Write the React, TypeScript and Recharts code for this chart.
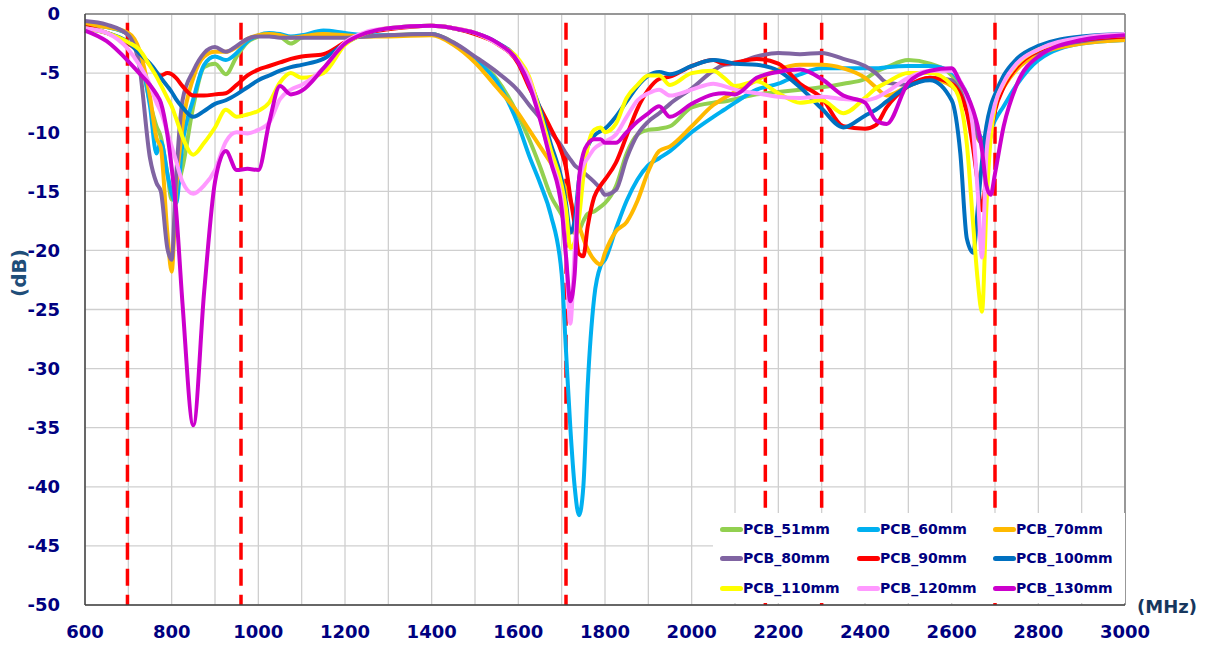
import React from 'react';
import { LineChart, Line, XAxis, YAxis, CartesianGrid, ReferenceLine, Legend } from 'recharts';

const FREQ = [
  600, 650, 700, 725, 750, 765, 775, 790, 800, 810,
  825, 850, 875, 900, 925, 950, 975, 1000, 1025, 1050,
  1075, 1100, 1150, 1200, 1250, 1300, 1400, 1450, 1500, 1550,
  1600, 1625, 1650, 1675, 1700, 1710, 1720, 1730, 1740, 1750,
  1760, 1775, 1790, 1800, 1825, 1850, 1875, 1900, 1925, 1950,
  2000, 2050, 2075, 2100, 2150, 2200, 2250, 2300, 2350, 2400,
  2425, 2450, 2500, 2550, 2600, 2620, 2635, 2650, 2660, 2670,
  2680, 2690, 2700, 2720, 2750, 2800, 2900, 3000,
];

const PCB_51 = [
  -0.9, -1.1, -1.7, -3.2, -7.5, -9.5, -10.4, -13.5, -15.7, -15.0,
  -13.0, -7.8, -4.5, -4.2, -5.1, -3.6, -2.4, -1.9, -1.7, -1.9,
  -2.5, -2.0, -1.8, -1.9, -1.9, -1.8, -1.7, -2.4, -3.8, -5.5,
  -8.6, -10.6, -12.9, -15.4, -17.0, -17.8, -18.4, -18.5, -18.3, -17.5,
  -16.9, -16.7, -16.3, -16.0, -14.6, -11.8, -10.2, -9.8, -9.7, -9.5,
  -7.9, -7.5, -7.4, -7.2, -6.8, -6.6, -6.4, -6.2, -5.9, -5.5,
  -4.9, -4.5, -3.9, -4.2, -5.2, -6.2, -7.5, -9.0, -10.2, -10.8,
  -10.0, -8.3, -7.3, -5.8, -4.3, -3.3, -2.4, -2.0,
];

const PCB_60 = [
  -0.9, -1.1, -1.7, -3.2, -7.8, -11.8, -10.8, -13.5, -15.2, -16.0,
  -11.0, -7.2, -4.3, -3.6, -3.9, -3.3, -2.3, -1.8, -1.6, -1.7,
  -1.9, -1.8, -1.4, -1.6, -1.8, -1.8, -1.7, -2.5, -3.9, -5.7,
  -9.4, -12.0, -14.3, -17.0, -22.0, -28.5, -35.0, -40.0, -42.4, -40.0,
  -31.5, -24.0, -21.3, -20.8, -18.2, -15.8, -14.0, -12.8, -12.2, -11.6,
  -10.0, -8.7, -8.1, -7.5, -6.4, -5.9, -5.1, -4.6, -4.6, -4.6,
  -4.6, -4.5, -4.4, -4.4, -4.9, -5.8, -6.8, -8.5, -9.8, -10.5,
  -10.5, -9.8, -9.0, -7.8, -6.0, -3.9, -2.5, -2.2,
];

const PCB_70 = [
  -0.9, -1.1, -1.6, -3.0, -7.0, -10.5, -11.3, -18.5, -21.8, -15.0,
  -9.5, -5.4, -3.6, -3.2, -3.2, -2.8, -2.1, -1.8, -1.7, -1.8,
  -2.0, -1.9, -1.7, -1.8, -1.9, -1.9, -1.8, -2.6, -4.1, -6.2,
  -8.4, -9.8, -11.2, -12.6, -14.1, -14.8, -15.8, -16.8, -17.9, -19.0,
  -19.9, -20.8, -21.2, -20.2, -18.4, -17.6, -15.8, -13.3, -11.6, -11.2,
  -9.5, -7.7, -7.1, -6.6, -5.6, -4.7, -4.3, -4.3, -4.6, -5.4,
  -6.2, -6.9, -6.1, -5.5, -6.1, -7.0, -8.1, -9.5, -10.5, -10.9,
  -10.0, -8.6, -7.6, -6.2, -4.7, -3.4, -2.5, -2.2,
];

const PCB_80 = [
  -0.6, -0.9, -1.8, -4.3, -12.2, -14.3, -15.0, -19.8, -20.8, -14.0,
  -7.3, -4.8, -3.3, -2.8, -3.2, -2.7, -2.1, -1.9, -1.9, -2.0,
  -2.0, -2.0, -2.0, -2.0, -1.9, -1.8, -1.7, -2.4, -3.6, -4.9,
  -6.5, -7.7, -8.8, -10.0, -11.2, -11.8, -12.3, -12.8, -13.1, -13.4,
  -13.7, -14.2, -14.8, -15.3, -14.9, -12.2, -10.2, -9.1, -8.4, -7.6,
  -6.3, -4.8, -4.3, -4.2, -3.6, -3.3, -3.4, -3.3, -3.8, -4.4,
  -5.0, -5.8, -6.0, -5.4, -5.6, -6.6, -7.8, -9.2, -10.3, -11.0,
  -10.2, -8.5, -7.3, -5.8, -4.2, -3.2, -2.3, -1.9,
];

const PCB_90 = [
  -1.1, -1.6, -2.5, -3.2, -4.3, -5.0, -5.2, -5.0, -5.1, -5.4,
  -6.1, -6.9, -6.9, -6.8, -6.7, -6.0, -5.2, -4.7, -4.4, -4.1,
  -3.8, -3.6, -3.4, -2.4, -1.6, -1.3, -1.0, -1.2, -1.7, -2.5,
  -4.2, -6.2, -7.9, -9.7, -11.7, -13.0, -15.5, -17.8, -20.3, -20.5,
  -18.0, -15.5, -14.5, -14.0, -12.6, -10.3, -8.0, -6.4, -5.5, -5.3,
  -4.4, -3.9, -4.2, -4.1, -3.8, -4.2, -5.9, -7.1, -9.5, -9.7,
  -9.4, -7.9, -6.1, -5.4, -5.9, -6.8, -8.3, -11.5, -14.2, -16.6,
  -13.5, -10.2, -8.2, -6.2, -4.5, -3.1, -2.2, -1.9,
];

const PCB_100 = [
  -1.2, -1.6, -2.4, -3.3, -4.2, -4.9, -5.4, -6.1, -6.6, -7.2,
  -7.9, -8.7, -8.2, -7.6, -7.3, -6.8, -6.2, -5.6, -5.2, -4.8,
  -4.5, -4.3, -3.8, -2.5, -1.6, -1.2, -1.0, -1.2, -1.6, -2.4,
  -3.9, -5.6, -8.0, -11.0, -14.0, -16.0, -18.5, -17.5, -14.0, -12.2,
  -11.2, -10.3, -9.9, -9.7, -8.7, -7.4, -6.1, -5.2, -4.9, -5.1,
  -4.4, -3.9, -4.0, -4.2, -4.3, -4.8, -6.2, -8.0, -9.6, -8.6,
  -8.1, -7.4, -6.1, -5.6, -7.3, -11.8, -19.0, -20.2, -16.5, -12.5,
  -9.5, -7.8, -6.8, -5.2, -3.8, -2.7, -1.9, -1.7,
];

const PCB_110 = [
  -1.2, -1.6, -2.4, -3.0, -4.4, -5.3, -6.0, -7.1, -7.8, -8.8,
  -10.4, -11.9, -10.9, -9.6, -8.1, -8.7, -8.5, -8.2, -7.5, -5.8,
  -5.0, -5.4, -5.0, -2.6, -1.6, -1.2, -1.0, -1.2, -1.6, -2.5,
  -3.8, -5.3, -8.3, -11.5, -14.5, -16.5, -19.8, -19.3, -17.3, -13.8,
  -11.3, -9.8, -9.6, -10.0, -9.3, -7.1, -6.0, -5.2, -5.2, -6.0,
  -5.0, -4.8, -5.4, -6.1, -5.7, -6.7, -7.5, -7.3, -8.4, -7.1,
  -6.3, -5.8, -5.0, -5.0, -6.0, -7.5, -11.0, -18.0, -22.5, -25.2,
  -16.5, -10.5, -7.8, -5.9, -4.3, -3.0, -2.1, -1.8,
];

const PCB_120 = [
  -1.2, -1.6, -3.0, -4.3, -6.0, -7.5, -8.3, -10.0, -11.2, -12.4,
  -14.2, -15.2, -14.5, -13.2, -10.8, -10.0, -10.1, -9.8, -9.2, -7.2,
  -6.4, -6.0, -4.6, -2.4, -1.5, -1.2, -1.0, -1.2, -1.6, -2.5,
  -4.0, -5.5, -8.8, -12.3, -15.8, -20.5, -26.2, -20.0, -14.5, -12.8,
  -12.2, -11.4, -11.0, -10.8, -10.2, -8.7, -7.3, -6.7, -6.4, -6.9,
  -6.4, -5.9, -6.1, -6.4, -6.7, -7.0, -7.1, -7.0, -7.2, -7.3,
  -7.1, -6.6, -5.4, -4.8, -4.8, -5.7, -7.0, -10.0, -15.0, -20.6,
  -12.0, -9.2, -7.6, -5.8, -4.2, -3.0, -2.0, -1.7,
];

const PCB_130 = [
  -1.4, -2.3, -4.0, -5.0, -6.0, -6.8, -7.5, -10.2, -13.0, -16.5,
  -24.5, -34.8, -23.5, -14.2, -11.6, -13.2, -13.1, -13.2, -9.2, -6.1,
  -6.8, -6.5, -4.6, -2.5, -1.6, -1.2, -1.0, -1.2, -1.6, -2.4,
  -4.1, -6.0, -8.9, -12.5, -16.5, -20.5, -24.3, -22.0, -14.0, -11.8,
  -11.0, -10.6, -10.6, -10.9, -10.9, -10.0, -9.1, -8.4, -7.8, -8.7,
  -7.6, -6.8, -6.7, -6.8, -5.4, -4.9, -4.7, -5.5, -6.9, -7.5,
  -9.0, -9.3, -5.8, -4.8, -4.6, -5.8, -6.8, -8.2, -9.5, -11.5,
  -14.5, -15.3, -13.5, -9.5, -6.0, -3.6, -2.2, -1.8,
];

const SERIES = [
  { key: 's51', name: 'PCB_51mm', color: '#92D050', values: PCB_51 },
  { key: 's60', name: 'PCB_60mm', color: '#00B0F0', values: PCB_60 },
  { key: 's70', name: 'PCB_70mm', color: '#FFB900', values: PCB_70 },
  { key: 's80', name: 'PCB_80mm', color: '#8064A2', values: PCB_80 },
  { key: 's90', name: 'PCB_90mm', color: '#FF0000', values: PCB_90 },
  { key: 's100', name: 'PCB_100mm', color: '#0070C0', values: PCB_100 },
  { key: 's110', name: 'PCB_110mm', color: '#FFFF00', values: PCB_110 },
  { key: 's120', name: 'PCB_120mm', color: '#FF99FF', values: PCB_120 },
  { key: 's130', name: 'PCB_130mm', color: '#CC00CC', values: PCB_130 },
];

const X_TICKS = [600, 700, 800, 900, 1000, 1100, 1200, 1300, 1400, 1500, 1600, 1700, 1800, 1900, 2000, 2100, 2200, 2300, 2400, 2500, 2600, 2700, 2800, 2900, 3000];
const Y_TICKS = [0, -5, -10, -15, -20, -25, -30, -35, -40, -45, -50];
const BAND_EDGES = [698, 960, 1710, 2170, 2300, 2700];
const BAND_TOP = -0.75;
const BAND_BOTTOM = -50;

const rows = FREQ.map((f, i) => {
  const r: Record<string, number> = { f };
  SERIES.forEach((s) => {
    r[s.key] = s.values[i];
  });
  return r;
});

const bandRows = BAND_EDGES.map((b) => [
  { f: b, v: BAND_TOP },
  { f: b, v: BAND_BOTTOM },
]);

const NAVY = '#000080';
const FONT = '"DejaVu Sans", Verdana, sans-serif';

const LegendBox = () => (
  <div style={{ position: 'relative', width: 412, height: 90, background: '#ffffff' }}>
    {SERIES.map((s, i) => {
      const col = i % 3;
      const row = Math.floor(i / 3);
      const left = [7, 144, 280][col];
      const top = [16, 45, 75][row];
      return (
        <div
          key={s.key}
          style={{ position: 'absolute', left, top: top - 10, height: 20, display: 'flex', alignItems: 'center', whiteSpace: 'nowrap' }}
        >
          <span style={{ display: 'inline-block', width: 23, height: 5, borderRadius: 3, background: s.color }} />
          <span style={{ fontFamily: FONT, fontWeight: 700, fontSize: 14, color: NAVY }}>{s.name}</span>
        </div>
      );
    })}
  </div>
);

const DbLabel = () => (
  <text
    x={19}
    y={273}
    transform="rotate(-90, 19, 273)"
    textAnchor="middle"
    dominantBaseline="central"
    fontFamily={FONT}
    fontWeight={700}
    fontSize={20}
    fill="#1F4E79"
  >
    (dB)
  </text>
);

const MhzLabel = () => (
  <text x={1137} y={606} textAnchor="start" dominantBaseline="central" fontFamily={FONT} fontWeight={700} fontSize={18} fill="#17375E">
    (MHz)
  </text>
);

export default function App() {
  return (
    <div style={{ position: 'absolute', left: 0, top: 0, width: 1206, height: 648, background: '#ffffff' }}>
      <LineChart width={1206} height={648} data={rows} margin={{ top: 14, right: 81, bottom: 0, left: 0 }}>
        <CartesianGrid stroke="#CFCFCF" strokeWidth={1.3} />
        <XAxis
          dataKey="f"
          type="number"
          domain={[600, 3000]}
          ticks={X_TICKS}
          interval={0}
          tickFormatter={(v: number) => (v % 200 === 0 ? String(v) : '')}
          height={43}
          axisLine={{ stroke: '#404040', strokeWidth: 1.5 }}
          tickLine={false}
          tickSize={0}
          tickMargin={20}
          tick={{ fill: NAVY, fontSize: 18, fontWeight: 700, fontFamily: FONT }}
          label={<MhzLabel />}
        />
        <YAxis
          type="number"
          domain={[-50, 0]}
          ticks={Y_TICKS}
          interval={0}
          width={85}
          axisLine={{ stroke: '#404040', strokeWidth: 1.5 }}
          tickLine={false}
          tickSize={0}
          tickMargin={25}
          tick={{ fill: NAVY, fontSize: 18, fontWeight: 700, fontFamily: FONT }}
          label={<DbLabel />}
        />
        <ReferenceLine y={0} stroke="#808080" strokeWidth={1.5} />
        <ReferenceLine x={3000} stroke="#808080" strokeWidth={1.5} />
        {bandRows.map((d, i) => (
          <Line
            key={'band' + i}
            data={d}
            dataKey="v"
            type="linear"
            stroke="#FF0000"
            strokeWidth={3.5}
            strokeDasharray="17 9"
            dot={false}
            activeDot={false}
            legendType="none"
            isAnimationActive={false}
          />
        ))}
        {SERIES.map((s) => (
          <Line
            key={s.key}
            dataKey={s.key}
            name={s.name}
            type="monotone"
            stroke={s.color}
            strokeWidth={4}
            dot={false}
            activeDot={false}
            isAnimationActive={false}
          />
        ))}
        <Legend
          layout="horizontal"
          verticalAlign="middle"
          align="center"
          content={<LegendBox />}
          wrapperStyle={{ position: 'absolute', left: 713, top: 513, width: 412, height: 90, margin: 0, padding: 0 }}
        />
      </LineChart>
    </div>
  );
}
